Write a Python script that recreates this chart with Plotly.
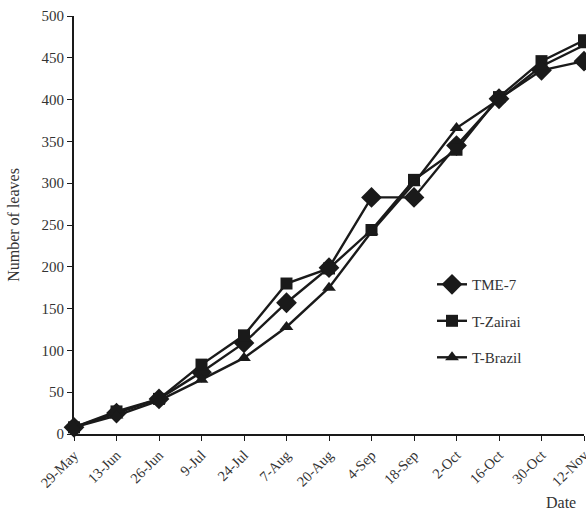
import plotly.graph_objects as go

dates = ["29-May", "13-Jun", "26-Jun", "9-Jul", "24-Jul", "7-Aug", "20-Aug",
         "4-Sep", "18-Sep", "2-Oct", "16-Oct", "30-Oct", "12-Nov"]
tme7 = [8, 25, 42, 74, 109, 157, 199, 283, 283, 345, 401, 435, 446]
t_zairai = [8, 27, 42, 83, 118, 180, 198, 244, 304, 340, 403, 446, 471]
t_brazil = [8, 22, 40, 65, 91, 128, 175, 242, 300, 366, 400, 440, 465]
y_ticks = [0, 50, 100, 150, 200, 250, 300, 350, 400, 450, 500]

series = [
    ("TME-7", tme7, "diamond", 16),
    ("T-Zairai", t_zairai, "square", 12),
    ("T-Brazil", t_brazil, "triangle-up", 12),
]

fig = go.Figure()
for i, (name, vals, sym, sz) in enumerate(series):
    fig.add_trace(go.Scatter(
        x=dates, y=vals, name=name, mode="lines+markers",
        line=dict(color="#1a1a1a", width=2.4),
        marker=dict(symbol=sym, size=sz, color="#1a1a1a"),
        cliponaxis=False, legendgroup=f"g{i}",
    ))

font = "Liberation Serif, Times New Roman, serif"
fig.update_layout(
    width=586, height=515,
    margin=dict(l=74, r=2, t=16, b=81),
    plot_bgcolor="white", paper_bgcolor="white",
    font=dict(family=font, size=14, color="#333333"),
    showlegend=True,
    legend=dict(x=0.702, y=0.397, xanchor="left", yanchor="top",
                font=dict(family=font, size=15, color="#333333"),
                tracegroupgap=14, bgcolor="rgba(0,0,0,0)"),
    xaxis=dict(type="category", range=[0, 12], tickangle=-45,
               automargin=False,
               showline=True, linecolor="#1a1a1a", linewidth=2,
               ticks="outside", ticklen=5, tickcolor="#1a1a1a",
               showgrid=False, zeroline=False,
               tickfont=dict(family=font, size=14.5)),
    yaxis=dict(range=[0, 500], tickvals=y_ticks, automargin=False,
               showline=True, linecolor="#1a1a1a", linewidth=2,
               ticks="outside", ticklen=5, tickcolor="#1a1a1a",
               showgrid=False, zeroline=False,
               title=dict(text="Number of leaves", standoff=18,
                          font=dict(family=font, size=16)),
               tickfont=dict(family=font, size=15)),
    annotations=[dict(text="Date", xref="paper", yref="paper",
                      x=0.955, y=-0.165, showarrow=False,
                      xanchor="center", yanchor="middle",
                      font=dict(family=font, size=16, color="#333333"))],
)

fig.write_html("out.html", config={"displayModeBar": False},
               post_script="document.body.style.margin='0';")
